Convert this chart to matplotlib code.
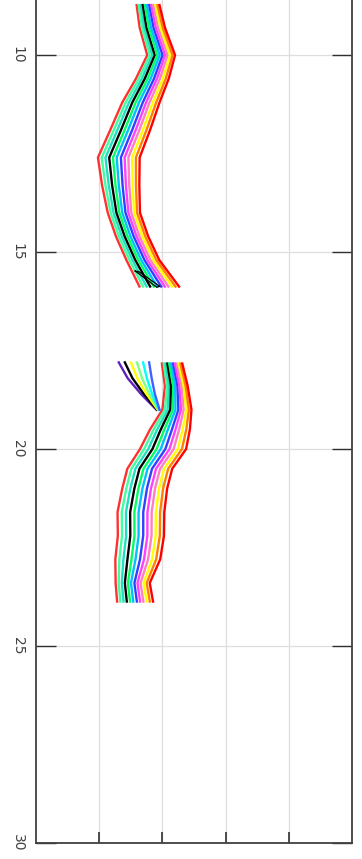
import numpy as np
import matplotlib
matplotlib.use('Agg')
import matplotlib.pyplot as plt

# first track (data x runs down the page, value runs across)
seg1_x = [8.7, 9.3, 10.0, 10.6, 11.2, 11.9, 12.6, 13.3, 14.0, 14.6, 15.2, 15.9]
seg1_mid = [1.77, 1.84, 1.98, 1.84, 1.66, 1.49, 1.31, 1.34, 1.39, 1.52, 1.69, 1.96]
seg1_width = [0.36, 0.40, 0.44, 0.52, 0.59, 0.63, 0.66, 0.59, 0.51, 0.51, 0.52, 0.63]

# second track
seg2_x = [17.8, 18.4, 19.0, 19.5, 20.0, 20.5, 21.0, 21.6, 22.2, 22.8, 23.4, 23.9]
seg2_mid = [2.15, 2.22, 2.23, 2.12, 2.01, 1.80, 1.72, 1.66, 1.66, 1.61, 1.53, 1.57]
seg2_width = [0.32, 0.36, 0.46, 0.63, 0.73, 0.71, 0.71, 0.74, 0.73, 0.71, 0.54, 0.57]

# short branch joining the second track
branch_x = [17.8, 18.2, 18.6, 19.0]
branch_mid = [1.55, 1.64, 1.77, 1.93]
branch_width = [0.48, 0.38, 0.22, 0.05]

# black loop at the end of the first track
loop_x = [15.48, 15.89, 15.87, 15.50, 15.48]
loop_y = [1.57, 1.91, 1.96, 1.63, 1.57]

# position of each member inside the band (fraction of width) and its colour
members = [-0.50, -0.41, -0.32, -0.23, -0.14, -0.05, 0.05, 0.14, 0.23, 0.32, 0.41, 0.50]
colors = ['#ff3030', '#40ffa0', '#20e0c0', '#000000', '#00ff60', '#00c0ff',
          '#3040ff', '#ff40ff', '#ff80c0', '#ffff00', '#ff8000', '#ff0000']
branch_members = [-0.5, -0.3, -0.1, 0.1, 0.3, 0.5]
branch_colors = ['#6020c0', '#000000', '#ffff00', '#80ff80', '#00ffff', '#4060ff']

fig = plt.figure(figsize=(3.62, 8.59), dpi=100)
ax = fig.add_axes([36/362, 16/859, 316/362, 843/859])

for xs, mid, wid in [(seg1_x, seg1_mid, seg1_width), (seg2_x, seg2_mid, seg2_width)]:
    mid = np.array(mid)
    wid = np.array(wid)
    for m, c in zip(members, colors):
        ax.plot(mid + m*wid, xs, color=c, lw=1.7, solid_capstyle='butt')

bm = np.array(branch_mid)
bw = np.array(branch_width)
for m, c in zip(branch_members, branch_colors):
    ax.plot(bm + m*bw, branch_x, color=c, lw=1.7)

ax.plot(loop_y, loop_x, color='black', lw=0.9)

ax.set_xlim(0, 5)
ax.set_ylim(30, 8.6)
ax.set_xticks([1, 2, 3, 4])
ax.set_xticklabels([])
ax.set_yticks([10, 15, 20, 25, 30])
ax.set_yticklabels(['10', '15', '20', '25', '30'], rotation=-90, va='center')
ax.grid(True, color='#dedede', lw=0.9)
ax.set_axisbelow(True)

ax.tick_params(axis='x', direction='in', length=8, width=1.2, color='#303030', bottom=True, top=False)
ax.tick_params(axis='y', direction='in', length=14.4, width=1.0, color='#303030',
               left=True, right=True, labelsize=10, labelcolor='#404040', pad=8)
for s in ['left', 'right', 'bottom']:
    ax.spines[s].set_color('#404040')
    ax.spines[s].set_linewidth(1.3)
ax.spines['top'].set_visible(False)

fig.savefig('out.png', dpi=100, facecolor='white')
